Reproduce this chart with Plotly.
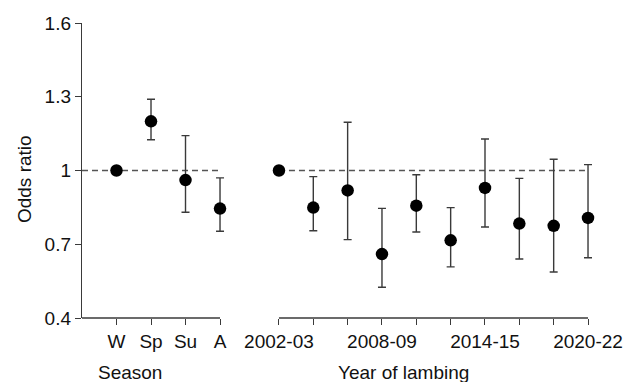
import plotly.graph_objects as go

# ---- data ----
seasons = ["W", "Sp", "Su", "A"]
season_or = [1.0, 1.20, 0.961, 0.845]
season_hi = [1.0, 1.29, 1.142, 0.970]
season_lo = [1.0, 1.125, 0.830, 0.753]

years = ["2002-03", "2004-05", "2006-07", "2008-09", "2010-11",
         "2012-13", "2014-15", "2016-17", "2018-19", "2020-22"]
year_or = [1.0, 0.849, 0.919, 0.660, 0.857, 0.716, 0.929, 0.784, 0.775, 0.807]
year_hi = [1.0, 0.975, 1.196, 0.846, 0.983, 0.849, 1.128, 0.968, 1.046, 1.024]
year_lo = [1.0, 0.755, 0.719, 0.525, 0.750, 0.608, 0.770, 0.640, 0.587, 0.645]
year_labels_shown = ["2002-03", "2008-09", "2014-15", "2020-22"]

y_ticks = [0.4, 0.7, 1.0, 1.3, 1.6]
y_ticktext = ["0.4", "0.7", "1", "1.3", "1.6"]
REF = 1.0

FONT = "Liberation Sans, Arial, sans-serif"
AX = "#3a3a3a"
ERR = "#3a3a3a"
TXT = "#111111"
FS = 19

fig = go.Figure()

sx = list(range(1, len(seasons) + 1))
fig.add_trace(go.Scatter(
    x=sx, y=season_or, mode="markers", xaxis="x", yaxis="y",
    marker=dict(color="black", size=12.5),
    error_y=dict(type="data", symmetric=False,
                 array=[h - v for h, v in zip(season_hi, season_or)],
                 arrayminus=[v - l for l, v in zip(season_lo, season_or)],
                 color=ERR, thickness=1.4, width=4),
    cliponaxis=False, showlegend=False))

yx = list(range(1, len(years) + 1))
fig.add_trace(go.Scatter(
    x=yx, y=year_or, mode="markers", xaxis="x2", yaxis="y",
    marker=dict(color="black", size=12.5),
    error_y=dict(type="data", symmetric=False,
                 array=[h - v for h, v in zip(year_hi, year_or)],
                 arrayminus=[v - l for l, v in zip(year_lo, year_or)],
                 color=ERR, thickness=1.4, width=4),
    cliponaxis=False, showlegend=False))

# reference lines and x-axis lines (axis lines span first..last category)
fig.add_shape(type="line", xref="x", yref="y", x0=0, x1=len(seasons), y0=REF, y1=REF,
              line=dict(color="#555555", width=1.4, dash="6px,4px"), layer="below")
fig.add_shape(type="line", xref="x2", yref="y", x0=1, x1=len(years), y0=REF, y1=REF,
              line=dict(color="#555555", width=1.4, dash="6px,4px"), layer="below")
fig.add_shape(type="line", xref="x", yref="y domain", x0=0, x1=len(seasons), y0=0, y1=0,
              line=dict(color=AX, width=1.4))
fig.add_shape(type="line", xref="x2", yref="y domain", x0=1, x1=len(years), y0=0, y1=0,
              line=dict(color=AX, width=1.4))

axis_common = dict(showgrid=False, zeroline=False, ticks="outside", ticklen=6,
                   tickwidth=1.4, tickcolor=AX, automargin=False,
                   tickfont=dict(family=FONT, size=FS, color=TXT), fixedrange=True)

fig.update_layout(
    template="none",
    width=627, height=382,
    margin=dict(l=82, r=30, t=23, b=64, autoexpand=False),
    paper_bgcolor="white", plot_bgcolor="white",
    xaxis=dict(domain=[0, 0.2814], range=[0, len(seasons) + 0.2], showline=False,
               tickvals=sx, ticktext=seasons, anchor="y", **axis_common),
    xaxis2=dict(domain=[0.3691, 0.9959], range=[0.8, len(years) + 0.2], showline=False,
                tickvals=yx,
                ticktext=[t if t in year_labels_shown else "" for t in years],
                anchor="y", **axis_common),
    yaxis=dict(range=[y_ticks[0], y_ticks[-1]], tickvals=y_ticks, ticktext=y_ticktext,
               showline=True, linecolor=AX, linewidth=1.4,
               anchor="x", **axis_common),
    annotations=[
        dict(text="Season", xref="paper", yref="paper", x=(130 - 82) / 515, y=-0.186,
             showarrow=False, xanchor="center", yanchor="middle",
             font=dict(family=FONT, size=FS, color=TXT)),
        dict(text="Year of lambing", xref="paper", yref="paper", x=(403 - 82) / 515, y=-0.186,
             showarrow=False, xanchor="center", yanchor="middle",
             font=dict(family=FONT, size=FS, color=TXT)),
        dict(text="Odds ratio", xref="paper", yref="paper", x=(24 - 82) / 515, y=0.471,
             showarrow=False, xanchor="center", yanchor="middle", textangle=-90,
             font=dict(family=FONT, size=FS, color=TXT)),
    ],
)

fig.write_html("out.html")
